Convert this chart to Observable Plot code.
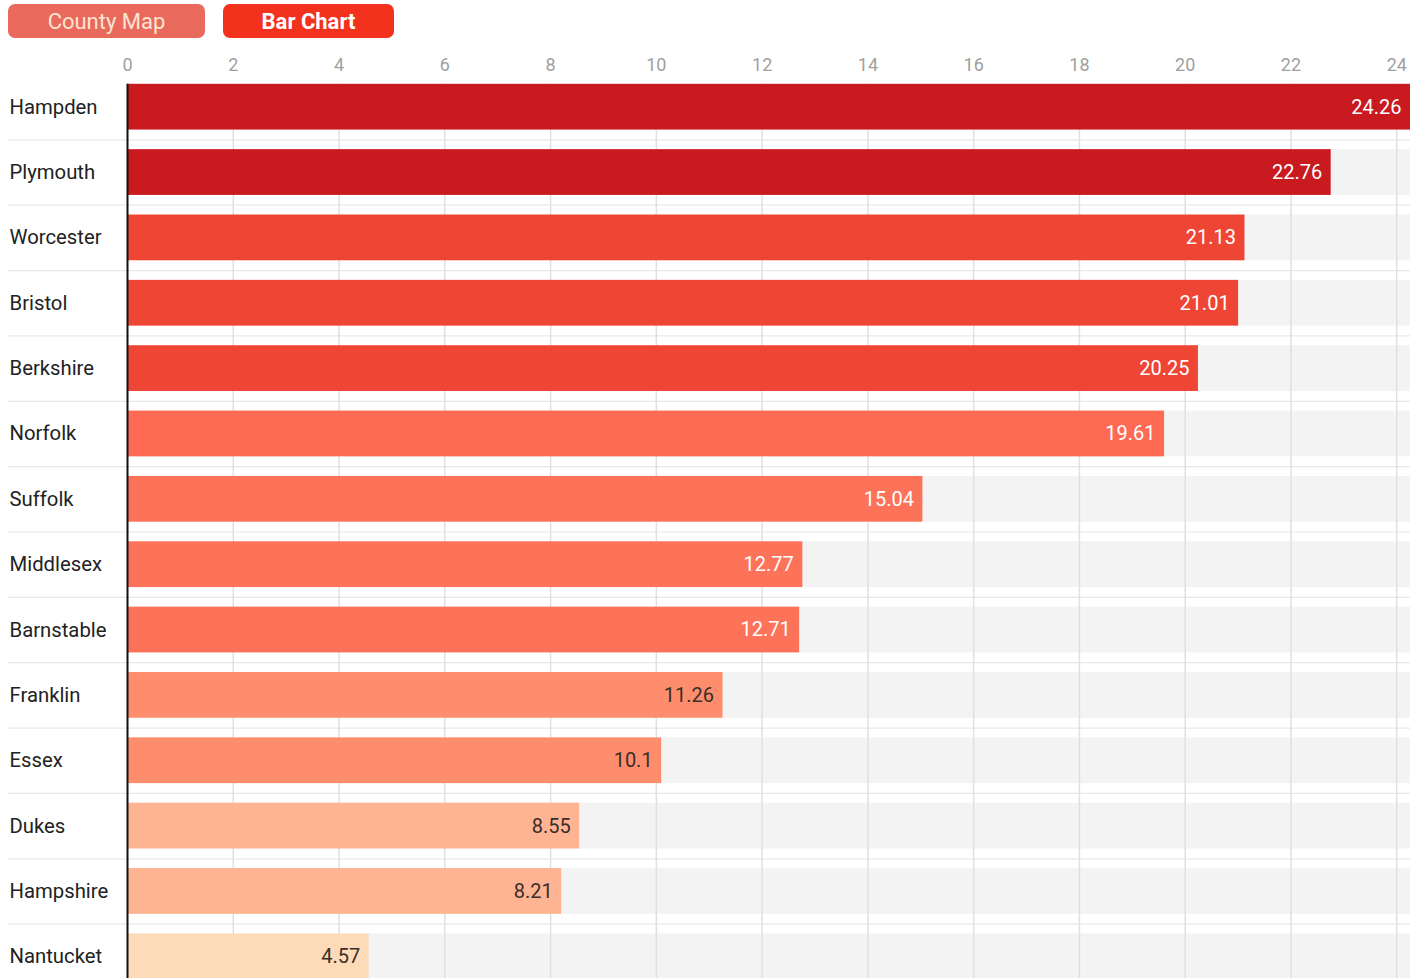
<!DOCTYPE html>
<html>
<head>
<meta charset="utf-8">
<script src="https://cdn.jsdelivr.net/npm/d3@7"></script>
<script src="https://cdn.jsdelivr.net/npm/@observablehq/plot@0.6"></script>
<style>
  html, body { margin: 0; padding: 0; background: #fff; overflow: hidden; }
  body { font-family: Roboto, "Noto Sans", sans-serif; width: 1424px; height: 978px; }
  .tabs { position: relative; height: 42px; }
  .tab { position: absolute; top: 4px; height: 34px; border-radius: 7px; display: flex; align-items: center; justify-content: center; font-size: 22px; }
  .tab.map { left: 8px; width: 197px; background: #e96a5d; color: #fde4d0; }
  .tab.bar { left: 223px; width: 171px; background: #f2321d; color: #fff; font-weight: bold; }
  #chart svg { display: block; }
</style>
</head>
<body>
<div class="tabs">
  <div class="tab map">County Map</div>
  <div class="tab bar">Bar Chart</div>
</div>
<div id="chart"></div>
<script>
const counties = ["Hampden", "Plymouth", "Worcester", "Bristol", "Berkshire", "Norfolk", "Suffolk", "Middlesex", "Barnstable", "Franklin", "Essex", "Dukes", "Hampshire", "Nantucket"];
const values = [24.26, 22.76, 21.13, 21.01, 20.25, 19.61, 15.04, 12.77, 12.71, 11.26, 10.1, 8.55, 8.21, 4.57];
const tickValues = [0, 2, 4, 6, 8, 10, 12, 14, 16, 18, 20, 22, 24];
const colorThresholds = [5, 10, 12, 17, 20, 22];
const colorRange = ["#fddbb9", "#feb393", "#fd8d6d", "#fd7359", "#ff6a55", "#ef4535", "#c91a1f"];

const data = counties.map((c, i) => ({county: c, value: values[i]}));
const maxValue = d3.max(values);

const width = 1424, height = 957;
const mt = 32, mb = 10, ml = 127, mr = 14;
const pInner = 0.3, pOuter = 0.15;
const step = (height - mt - mb) / (counties.length - pInner + 2 * pOuter);
const firstBarOffset = pOuter * step;

const chart = Plot.plot({
  width, height,
  marginTop: mt, marginBottom: mb, marginLeft: ml, marginRight: mr,
  style: {fontFamily: "Roboto, sans-serif", background: "transparent"},
  x: {domain: [0, maxValue], axis: null, label: null},
  y: {domain: counties, axis: null, paddingInner: pInner, paddingOuter: pOuter, round: false},
  color: {type: "threshold", domain: colorThresholds, range: colorRange},
  marks: [
    // row separators
    Plot.ruleY(counties, {y: d => d, dy: step / 2, stroke: "#e8e8ec", strokeWidth: 1.2, insetLeft: -119}),
    // background track bars
    Plot.barX(data, {x1: 0, x2: () => maxValue, y: "county", fill: "#f3f3f3"}),
    // vertical gridlines
    Plot.ruleX(tickValues.filter(t => t > 0), {stroke: "#e0e0e0", strokeWidth: 1.5, insetTop: firstBarOffset}),
    // value bars
    Plot.barX(data, {x: "value", y: "county", fill: "value"}),
    // axis line
    Plot.ruleX([0], {stroke: "#111", strokeWidth: 2, insetTop: firstBarOffset}),
    // top tick labels
    Plot.axisX(tickValues, {anchor: "top", tickSize: 0, tickPadding: 4, color: "#a0a0a0", fontSize: 18, label: null}),
    // county labels
    Plot.text(data, {y: "county", text: "county", frameAnchor: "left", textAnchor: "start", dx: -118, fill: "#222", fontSize: 20.3}),
    // value labels
    Plot.text(data.filter(d => d.value >= 12), {x: "value", y: "county", text: d => String(d.value), textAnchor: "end", dx: -9, fill: "#fff", fontSize: 20}),
    Plot.text(data.filter(d => d.value < 12), {x: "value", y: "county", text: d => String(d.value), textAnchor: "end", dx: -9, fill: "#3a2e28", fontSize: 20})
  ]
});
document.getElementById("chart").appendChild(chart);
</script>
</body>
</html>
